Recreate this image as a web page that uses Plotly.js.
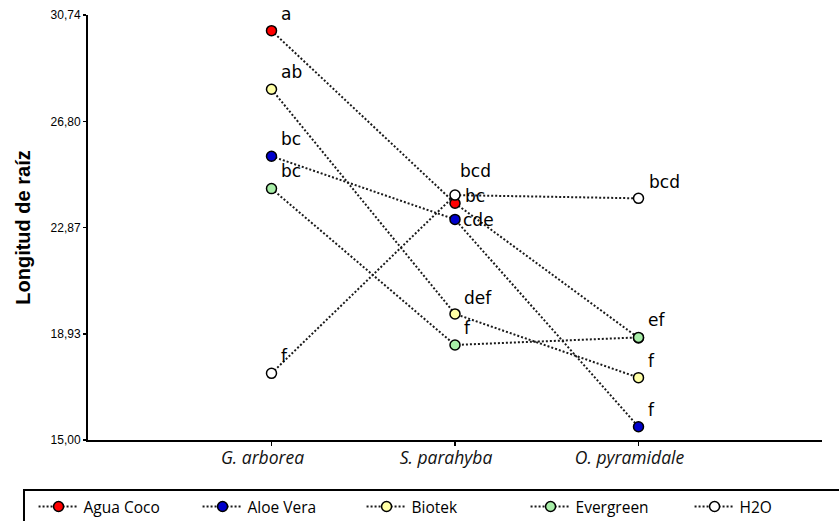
<!DOCTYPE html>
<html>
<head>
<meta charset="utf-8">
<script src="https://cdn.plot.ly/plotly-3.0.1.min.js"></script>
<style>html,body{margin:0;padding:0;background:#fff;} #chart{width:839px;height:521px;}</style>
</head>
<body>
<div id="chart"></div>
<script>
// ---- data ----
const species = ["G. arborea", "S. parahyba", "O. pyramidale"];
const seriesNames = ["Agua Coco", "Aloe Vera", "Biotek", "Evergreen", "H2O"];
const aguaCoco  = [30.16, 23.77, 18.78];
const aloeVera  = [25.51, 23.17, 15.49];
const biotek    = [27.99, 19.67, 17.31];
const evergreen = [24.31, 18.52, 18.80];
const h2o       = [17.47, 24.07, 23.95];
const aguaCocoLetters  = ["a", "bc", ""];
const aloeVeraLetters  = ["bc", "cde", "f"];
const biotekLetters    = ["ab", "def", "f"];
const evergreenLetters = ["bc", "f", "ef"];
const h2oLetters       = ["f", "bcd", "bcd"];
const yTickVals = [15.00, 18.93, 22.87, 26.80, 30.74];

// ---- styles ----
const colors = ["#ff0000", "#0000cc", "#ffffa6", "#a8eea8", "#ffffff"];
const legendGroup = ["legend", "legend", "legend", "legend", "legend2"];
const values = [aguaCoco, aloeVera, biotek, evergreen, h2o];
const letters = [aguaCocoLetters, aloeVeraLetters, biotekLetters, evergreenLetters, h2oLetters];
// label offsets [xshift, yshift] per series per point
const labelShift = [
  [[7,17],[8,7],[7,17]],
  [[7,17],[6,-1],[7,17]],
  [[7,17],[7,16],[7,17]],
  [[7,18],[7,17],[7,17]],
  [[7,17],[3,24],[8,16]]
];

const traces = seriesNames.map((name, i) => ({
  type: "scatter",
  mode: "lines+markers",
  name: name,
  legend: legendGroup[i],
  x: species,
  y: values[i],
  cliponaxis: false,
  line: {color: "#1a1a1a", width: 2, dash: "2px,2px"},
  marker: {symbol: "circle", size: 10, color: colors[i], line: {color: "#000", width: 1.5}}
}));

const annotations = [];
letters.forEach((arr, i) => {
  arr.forEach((t, j) => {
    if (!t) return;
    annotations.push({
      x: species[j], y: values[i][j], xref: "x", yref: "y",
      text: t, showarrow: false, xanchor: "left", yanchor: "middle",
      xshift: labelShift[i][j][0], yshift: labelShift[i][j][1],
      font: {family: "DejaVu Sans", size: 17, color: "#000"}
    });
  });
});

const legendCommon = {
  orientation: "h", xref: "container", yref: "container",
  xanchor: "left", y: 0.027, yanchor: "middle",
  font: {family: "Open Sans", size: 15.5, color: "#000"},
  itemwidth: 40,
  entrywidth: 109, entrywidthmode: "pixels",
  bgcolor: "rgba(0,0,0,0)", borderwidth: 0
};

const layout = {
  width: 839, height: 521,
  margin: {l: 88, r: 17, t: 15, b: 81, autoexpand: false},
  paper_bgcolor: "#fff", plot_bgcolor: "#fff",
  showlegend: true,
  separators: ",.",
  font: {family: "Liberation Sans", color: "#000"},
  xaxis: {
    type: "category", range: [-1, 3],
    showline: true, linecolor: "#000", linewidth: 2,
    ticks: "outside", ticklen: 4, tickwidth: 1.5, tickcolor: "#000",
    showgrid: false, zeroline: false,
    ticklabelshift: -9, ticklabelstandoff: -3,
    tickfont: {family: "Open Sans", size: 17.5, style: "italic", color: "#111"}
  },
  yaxis: {
    range: [15, 30.74],
    tickvals: yTickVals, tickformat: ".2f",
    showline: true, linecolor: "#000", linewidth: 2,
    ticks: "outside", ticklen: 3, tickwidth: 1.5, tickcolor: "#000",
    showgrid: false, zeroline: false,
    tickfont: {family: "Liberation Sans", size: 12, color: "#000"},
    title: {text: "Longitud de raíz", font: {family: "Liberation Sans", size: 20, weight: "bold", color: "#000"}, standoff: 15}
  },
  legend: Object.assign({}, legendCommon, {x: 0.04}),
  legend2: Object.assign({}, legendCommon, {x: 0.04 + 4 * 164 / 839, entrywidth: 40}),
  shapes: [{
    type: "rect", xref: "paper", yref: "paper",
    x0: -0.0872, x1: 1.05, y0: -0.1176, y1: -0.25,
    line: {color: "#000", width: 2}, fillcolor: "rgba(0,0,0,0)", layer: "below"
  }],
  annotations: annotations
};

Plotly.newPlot("chart", traces, layout, {displayModeBar: false, staticPlot: true});
</script>
</body>
</html>
